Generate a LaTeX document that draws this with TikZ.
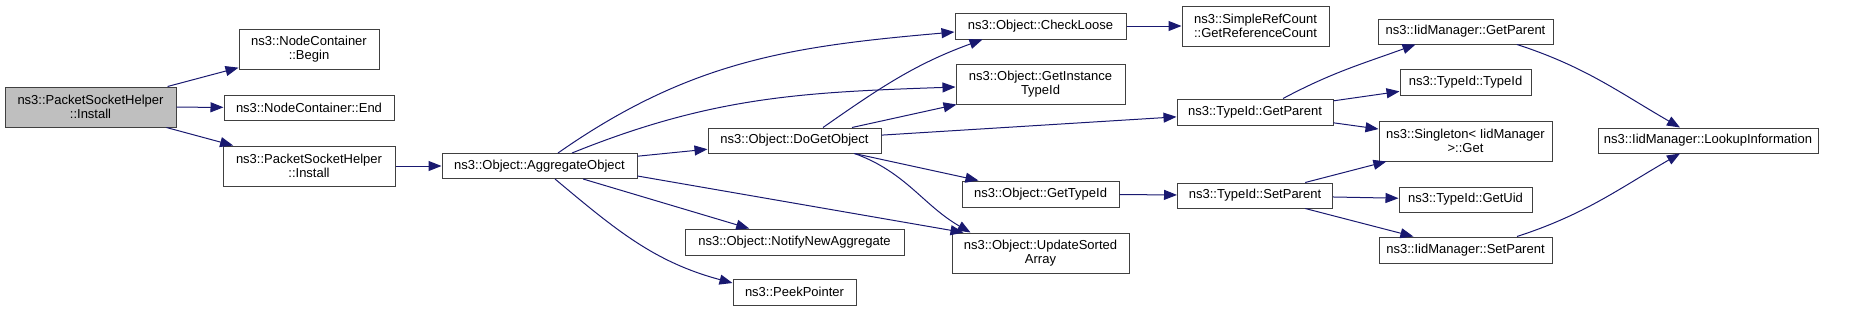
\documentclass[tikz,border=0pt]{standalone}
\usepackage{fontspec}
\setmainfont{Liberation Sans}
\usepackage{tikz}
\usetikzlibrary{arrows.meta}
\definecolor{edgeblue}{HTML}{191970}
\definecolor{boxline}{HTML}{404040}
\definecolor{rootfill}{HTML}{BFBFBF}
\tikzset{
  callbox/.style={draw=boxline, line width=1pt, fill=white, inner sep=1pt,
                  font=\fontsize{13}{14.5}\selectfont, align=center, text=black},
  rootbox/.style={callbox, fill=rootfill},
  callarrow/.style={-{Triangle[length=13pt, width=10pt]}, edgeblue, line width=1pt},
}

\begin{document}
\begin{tikzpicture}[x=1pt, y=1pt]
  \useasboundingbox (0,0) rectangle (1849,-311);

  % first column
  \node[rootbox, minimum width=171pt, minimum height=40pt] (root) at (90.5,-107) {ns3::PacketSocketHelper\\::Install};
  \node[callbox, minimum width=140pt, minimum height=40pt] (begin) at (309,-49) {ns3::NodeContainer\\::Begin};
  \node[callbox, minimum width=170pt, minimum height=25pt] (end) at (309,-107.5) {ns3::NodeContainer::End};
  \node[callbox, minimum width=172pt, minimum height=40pt] (pshinstall) at (309,-166) {ns3::PacketSocketHelper\\::Install};
  \node[callbox, minimum width=195pt, minimum height=25pt] (aggregate) at (539.5,-166) {ns3::Object::AggregateObject};

  \node[callbox, minimum width=173pt, minimum height=25pt] (dogetobject) at (794.5,-140.5) {ns3::Object::DoGetObject};
  \node[callbox, minimum width=219pt, minimum height=26pt] (notify) at (794.5,-242) {ns3::Object::NotifyNewAggregate};
  \node[callbox, minimum width=123pt, minimum height=26pt] (peek) at (794.5,-292) {ns3::PeekPointer};

  \node[callbox, minimum width=171pt, minimum height=26pt] (checkloose) at (1040.5,-26) {ns3::Object::CheckLoose};
  \node[callbox, minimum width=169pt, minimum height=40pt] (getinstance) at (1040.5,-84) {ns3::Object::GetInstance\\TypeId};
  \node[callbox, minimum width=157pt, minimum height=26pt] (gettypeid) at (1040.5,-194) {ns3::Object::GetTypeId};
  \node[callbox, minimum width=177pt, minimum height=40pt] (updatesorted) at (1040.5,-253) {ns3::Object::UpdateSorted\\Array};

  \node[callbox, minimum width=147pt, minimum height=40pt] (refcount) at (1255.5,-26) {ns3::SimpleRefCount\\::GetReferenceCount};
  \node[callbox, minimum width=156pt, minimum height=26pt] (tidgetparent) at (1255,-112) {ns3::TypeId::GetParent};
  \node[callbox, minimum width=155pt, minimum height=25pt] (tidsetparent) at (1255,-195.5) {ns3::TypeId::SetParent};

  \node[callbox, minimum width=175pt, minimum height=25pt] (iidgetparent) at (1465.5,-31.5) {ns3::IidManager::GetParent};
  \node[callbox, minimum width=131pt, minimum height=26pt] (tidtypeid) at (1465.5,-82) {ns3::TypeId::TypeId};
  \node[callbox, minimum width=173pt, minimum height=40pt] (singleton) at (1465.5,-141) {ns3::Singleton< IidManager\\>::Get};
  \node[callbox, minimum width=133pt, minimum height=25pt] (getuid) at (1465.5,-199.5) {ns3::TypeId::GetUid};
  \node[callbox, minimum width=173pt, minimum height=26pt] (iidsetparent) at (1465.5,-250) {ns3::IidManager::SetParent};

  \node[callbox, minimum width=220pt, minimum height=25pt] (lookup) at (1708,-140.5) {ns3::IidManager::LookupInformation};

  % calls
  \draw[callarrow] (root) -- (begin);
  \draw[callarrow] (root) -- (end);
  \draw[callarrow] (root) -- (pshinstall);
  \draw[callarrow] (pshinstall) -- (aggregate);

  \draw[callarrow] ([xshift=18.5pt]aggregate.north) to[out=35, in=185] ([yshift=-6pt]checkloose.west);
  \draw[callarrow] ([xshift=32.5pt]aggregate.north) to[out=22, in=182] ([yshift=-3pt]getinstance.west);
  \draw[callarrow] (aggregate) -- (dogetobject);
  \draw[callarrow] ([yshift=-10pt]aggregate.east) -- ([xshift=12pt]updatesorted.north west);
  \draw[callarrow] (aggregate) -- (notify);
  \draw[callarrow] ([xshift=15.5pt]aggregate.south) to[out=-40, in=165] ([yshift=9pt]peek.west);

  \draw[callarrow] ([xshift=28.5pt]dogetobject.north) to[out=35, in=200] ([xshift=-58pt]checkloose.south);
  \draw[callarrow] ([xshift=57.5pt]dogetobject.north) -- ([xshift=1pt]getinstance.south west);
  \draw[callarrow] (dogetobject) -- (tidgetparent);
  \draw[callarrow] (dogetobject) -- (gettypeid);
  \draw[callarrow] ([xshift=60pt]dogetobject.south) to[out=-20, in=150] ([xshift=-70pt]updatesorted.north);

  \draw[callarrow] (checkloose) -- (refcount);
  \draw[callarrow] (gettypeid) -- (tidsetparent);

  \draw[callarrow] ([xshift=28pt]tidgetparent.north) to[out=28, in=200] ([xshift=-50pt]iidgetparent.south);
  \draw[callarrow] (tidgetparent) -- (tidtypeid);
  \draw[callarrow] (tidgetparent) -- (singleton);
  \draw[callarrow] (tidsetparent) -- (singleton);
  \draw[callarrow] (tidsetparent) -- (getuid);
  \draw[callarrow] (tidsetparent) -- (iidsetparent);

  \draw[callarrow] ([xshift=51.5pt]iidgetparent.south) to[out=-18, in=150] ([xshift=-28pt]lookup.north);
  \draw[callarrow] ([xshift=51.5pt]iidsetparent.north) to[out=18, in=210] ([xshift=-28pt]lookup.south);
\end{tikzpicture}
\end{document}
